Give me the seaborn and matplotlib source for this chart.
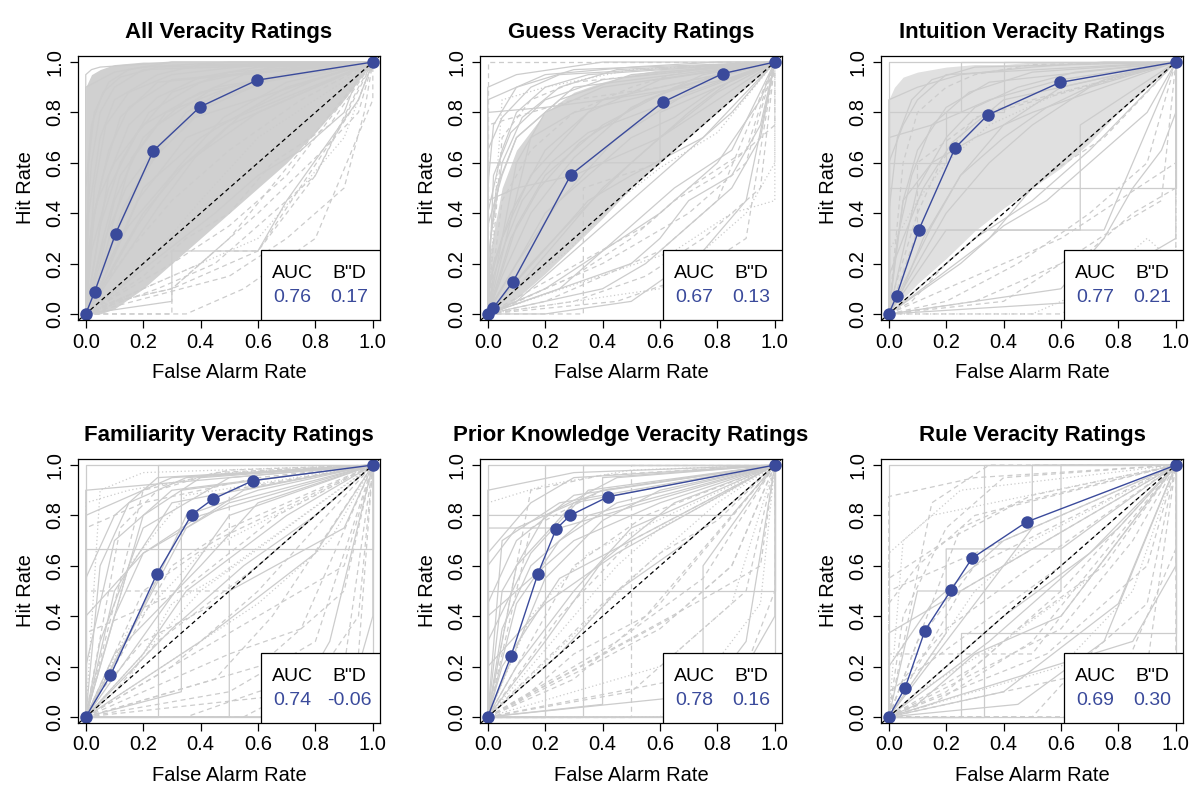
import matplotlib
matplotlib.use("Agg")
import matplotlib.pyplot as plt
from matplotlib.patches import Rectangle
import seaborn as sns
import pandas as pd

sns.set_style("white")
plt.rcParams["font.family"] = ["Liberation Sans", "DejaVu Sans"]
for key in ["text.color", "axes.labelcolor", "xtick.color", "ytick.color", "axes.edgecolor"]:
    plt.rcParams[key] = "black"

# ---------------- data ----------------
titles = ["All Veracity Ratings", "Guess Veracity Ratings", "Intuition Veracity Ratings",
          "Familiarity Veracity Ratings", "Prior Knowledge Veracity Ratings", "Rule Veracity Ratings"]
auc = [0.76, 0.67, 0.77, 0.74, 0.78, 0.69]
bdd = [0.17, 0.13, 0.21, -0.06, 0.16, 0.30]

fa_all = [0, 0.031, 0.104, 0.235, 0.398, 0.596, 1]
hr_all = [0, 0.088, 0.319, 0.647, 0.822, 0.928, 1]
fa_guess = [0, 0.018, 0.088, 0.290, 0.610, 0.818, 1]
hr_guess = [0, 0.022, 0.128, 0.553, 0.841, 0.954, 1]
fa_intu = [0, 0.027, 0.104, 0.231, 0.345, 0.596, 1]
hr_intu = [0, 0.071, 0.332, 0.659, 0.790, 0.919, 1]
fa_fam = [0, 0.086, 0.247, 0.369, 0.443, 0.582, 1]
hr_fam = [0, 0.165, 0.566, 0.803, 0.865, 0.938, 1]
fa_prior = [0, 0.081, 0.175, 0.238, 0.287, 0.419, 1]
hr_prior = [0, 0.242, 0.569, 0.746, 0.800, 0.874, 1]
fa_rule = [0, 0.057, 0.126, 0.218, 0.290, 0.480, 1]
hr_rule = [0, 0.116, 0.343, 0.505, 0.630, 0.774, 1]

# dense mass of individual curves (envelopes)
band_x_all = [0, 0.02, 0.05, 0.1, 0.2, 0.3, 0.4, 0.5, 0.6, 0.7, 0.8, 0.9, 1]
band_lo_all = [0, 0.0, 0.0, 0.02, 0.1, 0.2, 0.3, 0.4, 0.5, 0.6, 0.72, 0.85, 1]
band_hi_all = [0.9, 0.95, 0.97, 0.99, 1.0, 1.0, 1.0, 1.0, 1.0, 1.0, 1.0, 1.0, 1]
band_x_guess = [0, 0.05, 0.1, 0.2, 0.3, 0.4, 0.5, 0.6, 0.7, 0.8, 0.9, 1]
band_lo_guess = [0, 0.02, 0.06, 0.16, 0.27, 0.38, 0.5, 0.6, 0.7, 0.8, 0.9, 1]
band_hi_guess = [0.2, 0.5, 0.65, 0.8, 0.88, 0.92, 0.95, 0.97, 0.98, 0.99, 1, 1]
band_x_intu = [0, 0.02, 0.05, 0.1, 0.2, 0.3, 0.4, 0.5, 0.6, 0.7, 0.8, 0.9, 1]
band_lo_intu = [0, 0.03, 0.06, 0.12, 0.22, 0.33, 0.42, 0.5, 0.58, 0.68, 0.8, 0.9, 1]
band_hi_intu = [0.85, 0.9, 0.94, 0.96, 0.98, 0.99, 0.99, 1, 1, 1, 1, 1, 1]

# individual participant curves (interior points; each runs (0,0) -> ... -> (1,1))
gray_all = [
    [(0.0, 0.3), (0.02, 0.6), (0.05, 0.8), (0.1, 0.9), (0.2, 0.97)],
    [(0.01, 0.15), (0.03, 0.4), (0.08, 0.65), (0.15, 0.82), (0.3, 0.93)],
    [(0.02, 0.1), (0.06, 0.3), (0.12, 0.55), (0.25, 0.75), (0.45, 0.9)],
    [(0.05, 0.2), (0.1, 0.45), (0.2, 0.7), (0.35, 0.85), (0.55, 0.95)],
    [(0.03, 0.05), (0.1, 0.2), (0.2, 0.4), (0.35, 0.6), (0.6, 0.8)],
    [(0.0, 0.05), (0.05, 0.15), (0.15, 0.35), (0.3, 0.55), (0.5, 0.75)],
    [(0.01, 0.4), (0.05, 0.7), (0.1, 0.85), (0.25, 0.95), (0.4, 0.99)],
    [(0.05, 0.1), (0.15, 0.25), (0.3, 0.45), (0.5, 0.65), (0.75, 0.85)],
    [(0.1, 0.05), (0.3, 0.1), (0.45, 0.25), (0.6, 0.25), (0.8, 0.55)],
    [(0.02, 0.25), (0.08, 0.5), (0.18, 0.72), (0.3, 0.88), (0.5, 0.96)],
    [(0.0, 0.1), (0.02, 0.35), (0.06, 0.55), (0.12, 0.78), (0.25, 0.92)],
    [(0.05, 0.35), (0.12, 0.6), (0.22, 0.8), (0.4, 0.92), (0.65, 0.98)],
    [(0.08, 0.15), (0.18, 0.35), (0.32, 0.58), (0.48, 0.78), (0.7, 0.92)],
    [(0.15, 0.1), (0.3, 0.2), (0.5, 0.35), (0.7, 0.55), (0.9, 0.85)],
    [(0.0, 0.9), (0.05, 0.93), (0.1, 0.96), (0.2, 0.98), (0.5, 1.0)],
    [(0.1, 0.0), (0.3, 0.0), (0.3, 0.1), (0.6, 0.25), (0.95, 0.85)],
    [(0.02, 0.05), (0.08, 0.18), (0.2, 0.5), (0.4, 0.7), (0.7, 0.9)],
    [(0.0, 0.2), (0.04, 0.45), (0.1, 0.6), (0.2, 0.75), (0.4, 0.88)],
    [(0.1, 0.3), (0.2, 0.55), (0.3, 0.72), (0.45, 0.85), (0.7, 0.95)],
    [(0.03, 0.5), (0.07, 0.75), (0.15, 0.88), (0.3, 0.95), (0.6, 0.99)],
    [(0.2, 0.15), (0.35, 0.3), (0.5, 0.4), (0.65, 0.6), (0.85, 0.75)],
    [(0.05, 0.02), (0.12, 0.1), (0.25, 0.25), (0.4, 0.45), (0.6, 0.7)],
    [(0.01, 0.6), (0.03, 0.8), (0.08, 0.92), (0.15, 0.97), (0.3, 1.0)],
    [(0.04, 0.12), (0.1, 0.38), (0.16, 0.62), (0.28, 0.8), (0.5, 0.9)],
    [(0.3, 0.05), (0.3, 0.25), (0.6, 0.25), (0.7, 0.45), (0.95, 0.85)],
    [(0.06, 0.28), (0.14, 0.5), (0.26, 0.68), (0.42, 0.82), (0.62, 0.92)],
    [(0.0, 0.5), (0.02, 0.75), (0.06, 0.88), (0.12, 0.94), (0.25, 0.98)],
    [(0.12, 0.2), (0.25, 0.42), (0.38, 0.62), (0.55, 0.8), (0.8, 0.93)],
    [(0.02, 0.02), (0.05, 0.1), (0.1, 0.25), (0.18, 0.45), (0.35, 0.7)],
    [(0.25, 0.1), (0.45, 0.2), (0.6, 0.35), (0.8, 0.55), (0.95, 0.9)],
    [(0.08, 0.55), (0.15, 0.75), (0.25, 0.86), (0.4, 0.94), (0.6, 0.98)],
    [(0.0, 0.95), (0.02, 0.97), (0.05, 0.98), (0.3, 1.0), (0.6, 1.0)],
    [(0.15, 0.45), (0.25, 0.65), (0.35, 0.8), (0.5, 0.9), (0.75, 0.97)],
    [(0.03, 0.08), (0.07, 0.22), (0.13, 0.42), (0.22, 0.6), (0.38, 0.78)],
    [(0.45, 0.4), (0.6, 0.55), (0.75, 0.65), (0.9, 0.8), (0.95, 0.95)],
    [(0.35, 0.0), (0.55, 0.1), (0.8, 0.3), (1.0, 0.85)],
    [(0.5, 0.15), (0.7, 0.3), (0.9, 0.5), (0.97, 0.8)],
    [(0.4, 0.2), (0.6, 0.4), (0.8, 0.62), (0.95, 0.8)],
    [(0.05, 0.0), (0.1, 0.05), (0.3, 0.1), (0.5, 0.3)],
    [(0.6, 0.3), (0.75, 0.5), (0.9, 0.7)],
]
styles_all = "sssssssdds" "sssdsdssss" "dosssssssd" "sssss" "ddddo"

gray_guess = [
    [(0.0, 0.1), (0.05, 0.3), (0.15, 0.55), (0.35, 0.8), (0.6, 0.93)],
    [(0.02, 0.05), (0.1, 0.2), (0.25, 0.45), (0.45, 0.7), (0.7, 0.88)],
    [(0.05, 0.15), (0.15, 0.4), (0.3, 0.62), (0.5, 0.82), (0.75, 0.95)],
    [(0.0, 0.2), (0.03, 0.5), (0.1, 0.7), (0.25, 0.85), (0.5, 0.95)],
    [(0.1, 0.1), (0.25, 0.3), (0.4, 0.5), (0.6, 0.7), (0.8, 0.88)],
    [(0.2, 0.1), (0.4, 0.25), (0.6, 0.4), (0.8, 0.6), (0.95, 0.85)],
    [(0.0, 0.6), (0.6, 0.6), (0.6, 0.8)],
    [(0.0, 0.8), (0.2, 0.82), (0.4, 0.85), (0.7, 0.9), (0.9, 0.95)],
    [(0.05, 0.02), (0.2, 0.1), (0.4, 0.2), (0.7, 0.4), (0.9, 0.6)],
    [(0.01, 0.3), (0.05, 0.6), (0.12, 0.78), (0.25, 0.9), (0.45, 0.97)],
    [(0.08, 0.3), (0.18, 0.5), (0.32, 0.68), (0.55, 0.85), (0.8, 0.95)],
    [(0.15, 0.2), (0.3, 0.38), (0.5, 0.6), (0.7, 0.8), (0.85, 0.93)],
    [(0.3, 0.15), (0.5, 0.3), (0.65, 0.45), (0.8, 0.55), (1.0, 0.75)],
    [(0.0, 0.05), (0.02, 0.2), (0.08, 0.4), (0.2, 0.65), (0.4, 0.85)],
    [(0.6, 0.1), (0.7, 0.2), (0.8, 0.3), (0.9, 0.4), (1.0, 0.6)],
    [(0.03, 0.1), (0.1, 0.35), (0.2, 0.55), (0.4, 0.75), (0.65, 0.9)],
    [(0.0, 0.4), (0.05, 0.65), (0.1, 0.8), (0.2, 0.9), (0.35, 0.95)],
    [(0.1, 0.05), (0.25, 0.2), (0.45, 0.4), (0.65, 0.6), (0.85, 0.8)],
    [(0.05, 0.45), (0.15, 0.65), (0.3, 0.8), (0.5, 0.9), (0.7, 0.97)],
    [(0.4, 0.1), (0.55, 0.2), (0.7, 0.35), (0.85, 0.5), (0.95, 0.7)],
    [(0.02, 0.15), (0.06, 0.28), (0.12, 0.45), (0.22, 0.6), (0.35, 0.72)],
    [(0.0, 0.7), (0.0, 0.85), (0.2, 0.95), (0.5, 0.98), (0.8, 1.0)],
    [(0.2, 0.4), (0.35, 0.55), (0.5, 0.7), (0.65, 0.78), (0.8, 0.9)],
    [(0.2, 0.0), (0.5, 0.05), (0.75, 0.25), (0.9, 0.45)],
    [(0.12, 0.12), (0.28, 0.25), (0.42, 0.42), (0.6, 0.58), (0.8, 0.72)],
    [(0.0, 1.0)],
    [(0.5, 0.2), (0.6, 0.3), (0.7, 0.45), (0.85, 0.55), (0.95, 0.75)],
    [(0.333, 0.0), (0.333, 0.5), (0.6, 0.6)],
    [(0.0, 0.5), (0.02, 0.75), (0.1, 0.9), (0.3, 0.97)],
    [(0.0, 0.35), (0.05, 0.55), (0.1, 0.7), (0.3, 0.9)],
    [(0.02, 0.55), (0.08, 0.72), (0.2, 0.85), (0.4, 0.93)],
    [(0.0, 0.9), (0.1, 0.95), (0.4, 1.0)],
    [(0.05, 0.7), (0.15, 0.85), (0.3, 0.92)],
    [(0.0, 0.75), (0.3, 0.85), (0.6, 0.9)],
    [(0.1, 0.6), (0.2, 0.8), (0.4, 0.9)],
    [(0.0, 0.65), (0.05, 0.78), (0.15, 0.9), (0.25, 0.95)],
    [(0.15, 0.7), (0.3, 0.8), (0.6, 0.88)],
    [(0.45, 0.05), (0.7, 0.15), (0.9, 0.3)],
    [(0.3, 0.05), (0.55, 0.15), (0.75, 0.3), (0.95, 0.5)],
    [(0.65, 0.25), (0.85, 0.4), (1.0, 0.45)],
    [(0.2, 0.05), (0.4, 0.15), (0.6, 0.25), (0.8, 0.45)],
    [(0.25, 0.1), (0.45, 0.3), (0.65, 0.5), (0.85, 0.65)],
    [(0.55, 0.35), (0.7, 0.5), (0.9, 0.65)],
    [(0.35, 0.45), (0.5, 0.55), (0.75, 0.7)],
    [(0.0, 0.45), (0.1, 0.5), (0.3, 0.55), (0.6, 0.7)],
    [(0.05, 0.85), (0.2, 0.9), (0.5, 0.97)],
]
styles_guess = "ssssssssds" "ssdsosssds" "ssssodsd" "ssssddsssddodsdsso"

gray_intu = [
    [(0.0, 0.5), (1.0, 0.5)],
    [(0.0, 0.333), (0.75, 0.333)],
    [(0.0, 0.8), (0.25, 0.8), (0.25, 1.0)],
    [(0.02, 0.2), (0.05, 0.45), (0.1, 0.65), (0.2, 0.82), (0.35, 0.92)],
    [(0.0, 0.4), (0.03, 0.7), (0.08, 0.85), (0.15, 0.93), (0.3, 0.98)],
    [(0.05, 0.1), (0.12, 0.3), (0.25, 0.55), (0.4, 0.75), (0.6, 0.9)],
    [(0.1, 0.2), (0.2, 0.4), (0.35, 0.6), (0.5, 0.75), (0.7, 0.9)],
    [(0.2, 0.1), (0.4, 0.2), (0.6, 0.3), (0.8, 0.45), (1.0, 0.6)],
    [(0.0, 0.6), (0.2, 0.6), (0.2, 0.8), (0.4, 0.8), (0.4, 1.0)],
    [(0.03, 0.3), (0.08, 0.55), (0.15, 0.75), (0.28, 0.88), (0.5, 0.96)],
    [(0.0, 0.15), (0.05, 0.3), (0.12, 0.5), (0.22, 0.68), (0.4, 0.85)],
    [(0.3, 0.05), (0.5, 0.15), (0.7, 0.25), (0.85, 0.4), (1.0, 0.5)],
    [(0.15, 0.35), (0.25, 0.55), (0.4, 0.7), (0.55, 0.82), (0.75, 0.93)],
    [(0.5, 0.0), (0.7, 0.1), (0.8, 0.2), (0.9, 0.3), (1.0, 0.2)],
    [(0.0, 0.85), (0.1, 0.9), (0.25, 0.95), (0.5, 0.98), (0.75, 1.0)],
    [(0.2, 0.333), (0.667, 0.333), (0.667, 0.75), (0.8, 0.85)],
    [(0.05, 0.6), (0.1, 0.8), (0.2, 0.9), (0.3, 0.95), (0.5, 0.99)],
    [(0.08, 0.05), (0.2, 0.2), (0.35, 0.35), (0.55, 0.55), (0.75, 0.7)],
    [(0.25, 0.2), (0.4, 0.35), (0.55, 0.45), (0.7, 0.6), (0.9, 0.8)],
    [(0.0, 1.0)],
    [(0.02, 0.1), (0.06, 0.25), (0.1, 0.4), (0.18, 0.6), (0.3, 0.78)],
    [(0.6, 0.1), (0.75, 0.3), (0.85, 0.5), (0.95, 0.65), (1.0, 0.8)],
    [(0.1, 0.5), (0.2, 0.7), (0.3, 0.82), (0.45, 0.9), (0.65, 0.96)],
    [(0.0, 0.25), (0.1, 0.45), (0.2, 0.6), (0.35, 0.75), (0.6, 0.88)],
    [(0.35, 0.3), (0.5, 0.5), (0.6, 0.6), (0.75, 0.75), (0.9, 0.9)],
    [(0.1, 0.333), (0.1, 0.6), (0.333, 0.8)],
    [(0.6, 0.0), (1.0, 0.25), (1.0, 0.5)],
    [(0.2, 0.05), (0.45, 0.2), (0.7, 0.4), (0.9, 0.6)],
    [(0.4, 0.05), (0.6, 0.2), (0.8, 0.35), (0.95, 0.45)],
    [(0.7, 0.05), (0.85, 0.2), (1.0, 0.3)],
    [(0.15, 0.15), (0.3, 0.3), (0.5, 0.45), (0.7, 0.65)],
    [(0.0, 0.6), (0.05, 0.75), (0.1, 0.85), (0.2, 0.95)],
    [(0.0, 0.7), (0.15, 0.75), (0.35, 0.85), (0.6, 0.93)],
    [(0.05, 0.45), (0.15, 0.6), (0.3, 0.7), (0.5, 0.8)],
]
styles_intu = "sssssssdss" "sdsossddss" "dssosdd" "ddsssss"

gray_fam = [
    [(0.0, 0.667), (1.0, 0.667)],
    [(0.25, 0.0), (0.25, 1.0)],
    [(0.333, 0.1), (0.333, 0.9)],
    [(0.0, 0.5), (0.5, 0.5), (0.5, 0.9)],
    [(0.1, 0.5), (0.3, 0.85)],
    [(0.05, 0.3), (0.2, 0.75), (0.5, 0.95)],
    [(0.2, 0.8), (0.4, 0.95)],
    [(0.3, 0.2), (0.6, 0.5)],
    [(0.5, 0.1), (0.8, 0.3)],
    [(0.15, 0.6), (0.35, 0.88)],
    [(0.0, 0.2), (0.1, 0.7), (0.3, 0.9)],
    [(0.4, 0.5), (0.7, 0.75)],
    [(0.6, 0.2), (0.9, 0.5)],
    [(0.0, 0.8), (0.3, 0.95)],
    [(0.25, 0.4), (0.5, 0.8)],
    [(0.7, 0.0), (0.85, 0.3)],
    [(0.1, 0.25), (0.4, 0.6), (0.6, 0.85)],
    [(0.5, 0.25), (0.75, 0.35)],
    [(0.05, 0.9), (0.2, 0.97)],
    [(0.35, 0.75), (0.55, 0.9)],
    [(0.2, 0.5), (0.45, 0.7)],
    [(0.8, 0.1), (0.95, 0.25)],
    [(0.0, 1.0)],
    [(1.0, 0.0)],
    [(0.15, 0.15), (0.3, 0.45), (0.45, 0.55)],
    [(0.0, 0.9), (0.5, 0.95)],
    [(0.4, 0.3), (0.8, 0.65)],
    [(0.12, 0.75), (0.25, 0.9), (0.45, 0.97)],
    [(0.0, 0.75), (0.2, 0.85), (0.6, 0.95)],
    [(0.5, 0.0), (0.5, 0.5), (0.9, 0.75)],
    [(0.0, 0.4), (0.2, 0.65), (0.5, 0.85)],
    [(0.05, 0.6), (0.15, 0.85), (0.35, 0.95)],
    [(0.1, 0.1), (0.25, 0.3), (0.6, 0.6)],
    [(0.2, 0.25), (0.35, 0.5), (0.7, 0.8)],
    [(0.3, 0.6), (0.5, 0.75)],
    [(0.0, 0.55), (0.1, 0.8), (0.25, 0.95)],
    [(0.15, 0.35), (0.4, 0.65)],
    [(0.45, 0.15), (0.65, 0.4)],
    [(0.55, 0.0), (0.8, 0.15), (0.95, 0.4)],
    [(0.35, 0.0), (0.6, 0.1), (0.9, 0.2)],
    [(0.0, 0.85), (0.15, 0.9), (0.5, 0.97)],
    [(0.1, 0.4), (0.2, 0.65), (0.4, 0.8)],
    [(0.25, 0.55), (0.35, 0.8), (0.6, 0.9)],
    [(0.6, 0.45), (0.85, 0.7)],
    [(0.05, 0.1), (0.2, 0.3), (0.45, 0.45)],
    [(0.75, 0.5), (0.9, 0.6)],
    [(0.3, 0.35), (0.55, 0.6), (0.8, 0.8)],
    [(0.9, 0.0), (1.0, 0.4)],
    [(0.0, 0.333), (0.333, 0.5), (0.667, 0.8)],
    [(0.2, 0.9), (0.5, 0.98)],
]
styles_fam = "sssdsssddo" "sodssssdos" "ddssossdds" "ssdsdsodddossoddssdd"

gray_prior = [
    [(0.0, 0.5), (1.0, 0.5)],
    [(0.0, 0.75), (0.25, 0.75)],
    [(0.2, 0.0), (0.2, 1.0)],
    [(0.333, 0.0), (0.333, 1.0)],
    [(0.4, 0.05), (0.4, 0.95)],
    [(0.5, 0.0), (0.5, 1.0)],
    [(0.75, 0.0), (0.75, 0.6)],
    [(0.0, 0.8), (0.85, 0.8)],
    [(0.05, 0.5), (0.2, 0.8), (0.45, 0.95)],
    [(0.1, 0.6), (0.3, 0.85)],
    [(0.0, 0.3), (0.15, 0.65), (0.35, 0.9)],
    [(0.25, 0.4), (0.5, 0.7)],
    [(0.3, 0.15), (0.6, 0.45)],
    [(0.6, 0.2), (0.85, 0.45)],
    [(0.0, 0.9), (0.3, 0.97)],
    [(0.1, 0.2), (0.3, 0.5), (0.5, 0.75)],
    [(0.45, 0.3), (0.75, 0.55)],
    [(0.7, 0.0), (0.9, 0.3)],
    [(0.0, 1.0)],
    [(1.0, 0.0)],
    [(0.15, 0.75), (0.4, 0.9)],
    [(0.2, 0.3), (0.4, 0.62), (0.65, 0.85)],
    [(0.8, 0.5), (0.95, 0.6)],
    [(0.05, 0.2), (0.25, 0.55)],
    [(0.55, 0.6), (0.8, 0.85)],
    [(0.0, 0.6), (0.1, 0.75), (0.4, 0.9)],
    [(0.0, 0.4), (0.3, 0.7), (0.6, 0.85)],
    [(0.9, 0.2), (1.0, 0.5)],
    [(0.0, 0.45), (0.1, 0.7), (0.3, 0.88)],
    [(0.05, 0.35), (0.15, 0.6), (0.35, 0.8)],
    [(0.1, 0.45), (0.25, 0.7), (0.45, 0.85)],
    [(0.2, 0.55), (0.4, 0.78), (0.6, 0.9)],
    [(0.3, 0.6), (0.55, 0.8)],
    [(0.0, 0.65), (0.15, 0.85), (0.3, 0.95)],
    [(0.15, 0.4), (0.35, 0.65)],
    [(0.35, 0.2), (0.6, 0.35), (0.85, 0.6)],
    [(0.5, 0.1), (0.7, 0.3), (0.9, 0.5)],
    [(0.6, 0.0), (0.75, 0.15), (0.95, 0.45)],
    [(0.0, 0.85), (0.2, 0.92), (0.5, 0.98)],
    [(0.25, 0.25), (0.45, 0.5), (0.7, 0.7)],
    [(0.4, 0.45), (0.6, 0.65), (0.8, 0.78)],
    [(0.65, 0.4), (0.85, 0.6)],
    [(0.1, 0.05), (0.3, 0.25), (0.55, 0.4)],
    [(0.05, 0.7), (0.25, 0.85)],
    [(0.0, 0.2), (0.2, 0.45), (0.45, 0.65)],
    [(0.85, 0.1), (1.0, 0.4)],
    [(0.15, 0.9), (0.4, 0.96)],
    [(0.45, 0.6), (0.6, 0.75), (0.85, 0.9)],
]
styles_prior = "sssssdssss" "sddossdsss" "dsdsossd" "ssssdsoddoosdddsssdo"

gray_rule = [
    [(0.25, 0.0), (0.25, 0.333), (1.0, 0.333)],
    [(0.1, 0.5), (0.6, 0.5), (0.6, 1.0)],
    [(0.2, 0.333), (0.2, 0.667), (0.6, 0.667)],
    [(0.5, 0.75), (0.5, 1.0)],
    [(0.0, 0.5), (0.5, 0.75)],
    [(0.1, 0.3), (0.3, 0.6)],
    [(0.05, 0.4), (0.2, 0.75), (0.4, 0.95)],
    [(0.0, 0.333), (0.4, 0.6)],
    [(0.3, 0.2), (0.6, 0.5)],
    [(0.15, 0.05), (0.5, 0.3)],
    [(0.0, 0.875), (0.3, 0.95)],
    [(0.0, 0.25), (0.5, 0.25)],
    [(0.6, 0.2), (0.85, 0.5)],
    [(0.333, 0.0), (0.333, 1.0)],
    [(0.0, 1.0)],
    [(1.0, 0.0)],
    [(0.1, 0.2), (0.25, 0.5)],
    [(0.4, 0.1), (0.8, 0.45)],
    [(0.7, 0.0), (0.9, 0.2)],
    [(0.15, 0.85), (0.35, 1.0)],
    [(0.05, 0.7), (0.25, 0.9)],
    [(0.4, 0.4), (0.7, 0.65)],
    [(0.75, 0.0), (1.0, 0.667)],
    [(0.55, 0.25), (0.9, 0.6)],
    [(0.0, 0.65), (0.15, 0.8)],
    [(0.8, 0.2), (1.0, 0.25)],
    [(0.0, 0.2), (0.15, 0.45), (0.4, 0.7)],
    [(0.05, 0.15), (0.2, 0.35), (0.5, 0.6)],
    [(0.1, 0.05), (0.3, 0.25), (0.6, 0.4)],
    [(0.0, 0.55), (0.2, 0.7), (0.45, 0.85)],
    [(0.3, 0.5), (0.5, 0.7)],
    [(0.2, 0.1), (0.45, 0.35), (0.75, 0.6)],
    [(0.5, 0.0), (0.7, 0.25), (0.9, 0.45)],
    [(0.35, 0.3), (0.6, 0.55), (0.8, 0.75)],
    [(0.0, 0.45), (0.1, 0.6), (0.3, 0.8)],
    [(0.6, 0.35), (0.85, 0.7)],
    [(0.45, 0.05), (0.75, 0.3)],
    [(0.25, 0.75), (0.5, 0.88)],
    [(0.1, 0.1), (0.4, 0.3), (0.7, 0.55)],
    [(0.85, 0.3), (1.0, 0.6)],
    [(0.0, 0.1), (0.3, 0.35), (0.6, 0.6)],
]
styles_rule = "ssssdddsdd" "ddosssdsdd" "osddod" "sdsdoddsddsdosd"

panels = [
    (fa_all, hr_all, gray_all, styles_all, (band_x_all, band_lo_all, band_hi_all)),
    (fa_guess, hr_guess, gray_guess, styles_guess, (band_x_guess, band_lo_guess, band_hi_guess)),
    (fa_intu, hr_intu, gray_intu, styles_intu, (band_x_intu, band_lo_intu, band_hi_intu)),
    (fa_fam, hr_fam, gray_fam, styles_fam, None),
    (fa_prior, hr_prior, gray_prior, styles_prior, None),
    (fa_rule, hr_rule, gray_rule, styles_rule, None),
]
band_colors = ["#D0D0D0", "#D6D6D6", "#E0E0E0"]

BLUE = "#3A4A9B"
GRAY = "#CCCCCC"
ticks = [0.0, 0.2, 0.4, 0.6, 0.8, 1.0]
tick_labels = ["0.0", "0.2", "0.4", "0.6", "0.8", "1.0"]

# ---------------- figure ----------------
fig = plt.figure(figsize=(11.95, 7.85), dpi=100)
lefts = [78 / 1195, 480 / 1195, 881 / 1195]
bottoms = [1 - 320 / 785, 1 - 723 / 785]
W, H = 302 / 1195, 264 / 785
XL = (-0.027, 1.025)
YL = (-0.024, 1.024)

for i, (fa, hr, curves, styles, band) in enumerate(panels):
    ax = fig.add_axes([lefts[i % 3], bottoms[i // 3], W, H])

    if band is not None:
        bx, blo, bhi = band
        ax.fill_between(bx, blo, bhi, color=band_colors[i], lw=0, zorder=1)

    rows = []
    for k, pts in enumerate(curves):
        full = [(0.0, 0.0)] + list(pts) + [(1.0, 1.0)]
        st = styles[k] if k < len(styles) else "s"
        for j, (x, y) in enumerate(full):
            rows.append({"fa": x, "hr": y, "curve": k, "order": j, "ls": st})
    df = pd.DataFrame(rows)
    sns.lineplot(data=df, x="fa", y="hr", units="curve", estimator=None, sort=False,
                 style="ls", dashes={"s": "", "d": (4, 3), "o": (1, 2)},
                 color=GRAY, lw=0.9, legend=False, ax=ax, zorder=2)

    ax.plot([-0.2, 1.2], [-0.2, 1.2], color="black", lw=0.9, dashes=(3.5, 2.5), zorder=3)

    sns.lineplot(x=fa, y=hr, sort=False, color=BLUE, lw=1.0, marker="o", markersize=9,
                 markeredgewidth=0, ax=ax, zorder=4)

    ax.set_xlim(*XL)
    ax.set_ylim(*YL)
    ax.set_xticks(ticks)
    ax.set_xticklabels(tick_labels)
    ax.set_yticks(ticks)
    ax.set_yticklabels(tick_labels, rotation=90, va="center")
    ax.tick_params(axis="both", which="major", direction="out", length=6, width=0.9,
                   labelsize=14.5, color="black", labelcolor="black", bottom=True, left=True)
    ax.tick_params(axis="x", pad=3)
    ax.tick_params(axis="y", pad=4)
    for sp in ax.spines.values():
        sp.set_color("black")
        sp.set_linewidth(0.9)
        sp.set_zorder(10)

    ax.set_xlabel("False Alarm Rate", fontsize=14.5, labelpad=8, color="black")
    ax.set_ylabel("Hit Rate", fontsize=14.5, labelpad=7, color="black")
    ax.set_title(titles[i], fontsize=16, fontweight="bold", pad=13, color="black")

    # AUC / B"D box
    ax.add_patch(Rectangle((0.612, YL[0] - 0.05), XL[1] - 0.612 + 0.05, 0.252 - YL[0] + 0.05,
                           facecolor="white", edgecolor="black", lw=0.9, zorder=6,
                           clip_on=True))
    ax.text(0.72, 0.162, "AUC", fontsize=14, ha="center", va="center", zorder=7)
    ax.text(0.919, 0.162, 'B"D', fontsize=14, ha="center", va="center", zorder=7)
    ax.text(0.72, 0.067, f"{auc[i]:.2f}", fontsize=14, ha="center", va="center",
            color=BLUE, zorder=7)
    ax.text(0.919, 0.067, f"{bdd[i]:.2f}", fontsize=14, ha="center", va="center",
            color=BLUE, zorder=7)

fig.savefig("out.png", dpi=100)
